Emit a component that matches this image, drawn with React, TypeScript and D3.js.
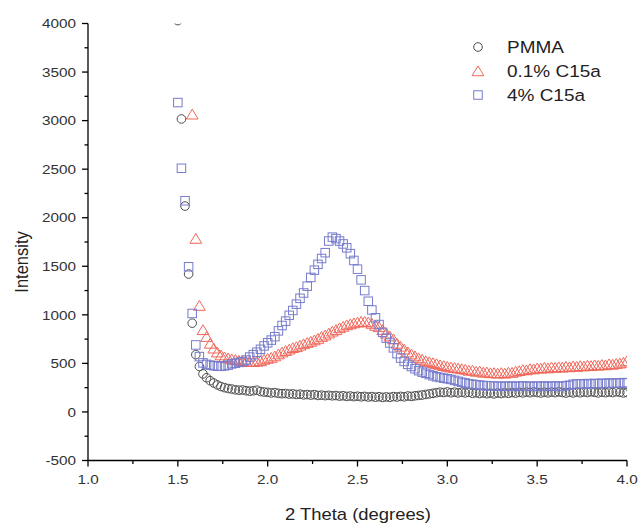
import React from "react";
import * as d3 from "d3";

// 2θ sampling grid (instrument step 0.02°), 1.50 … 4.00
const twoTheta: number[] = d3.range(0, 126).map((i) => +(1.5 + i * 0.02).toFixed(2));

const pmma: (number | null)[] = [
  4030, 3017, 2120, 1420, 914, 590, 468, 392, 352, 322,
  298, 278, 262, 250, 241, 236, 228, 224, 226, 219,
  214, 218, 224, 210, 205, 202, 196, 199, 192, 188,
  190, 184, 186, 180, 183, 176, 179, 174, 178, 170,
  173, 168, 171, 166, 169, 163, 167, 160, 164, 158,
  162, 156, 160, 154, 158, 152, 157, 150, 155, 151,
  158, 154, 160, 156, 164, 160, 166, 170, 174, 180,
  186, 192, 198, 204, 200, 206, 198, 204, 196, 202,
  196, 202, 192, 198, 190, 196, 188, 194, 186, 195,
  190, 198, 192, 200, 194, 202, 196, 204, 198, 206,
  200, 195, 203, 197, 205, 199, 207, 200, 194, 202,
  196, 204, 198, 206, 200, 208, 202, 196, 204, 198,
  206, 200, 208, 202, 196, 200,
];

const c15a01: (number | null)[] = [
  null, null, null, null, 3060, 1780, 1090, 840, 770, 700,
  650, 610, 580, 560, 550, 540, 533, 525, 518, 515,
  512, 512, 515, 520, 535, 545, 555, 570, 590, 610,
  625, 640, 655, 665, 680, 695, 708, 720, 735, 750,
  770, 785, 805, 825, 840, 860, 875, 890, 900, 910,
  918, 925, 925, 920, 905, 885, 870, 840, 805, 775,
  745, 700, 670, 640, 610, 590, 570, 550, 535, 520,
  510, 500, 490, 478, 470, 462, 455, 450, 445, 438,
  432, 422, 424, 412, 414, 402, 404, 396, 398, 392,
  398, 392, 402, 400, 412, 418, 428, 426, 438, 436,
  446, 444, 452, 446, 456, 452, 458, 454, 462, 458,
  466, 462, 470, 466, 474, 470, 478, 474, 482, 478,
  488, 484, 492, 496, 505, 520,
];

const c15a4: (number | null)[] = [
  3186, 2509, 2175, 1495, 1014, 690, 570, 505, 490, 482,
  476, 471, 470, 475, 482, 495, 502, 510, 518, 535,
  565, 590, 615, 645, 680, 712, 740, 775, 835, 890,
  935, 995, 1045, 1110, 1170, 1225, 1295, 1385, 1460, 1520,
  1580, 1640, 1760, 1800, 1785, 1760, 1730, 1690, 1630, 1560,
  1470, 1360, 1250, 1140, 1050, 970, 900, 820, 760, 710,
  660, 600, 555, 520, 490, 468, 445, 425, 410, 398,
  385, 372, 362, 355, 348, 342, 335, 325, 315, 305,
  298, 290, 285, 280, 276, 272, 270, 268, 266, 265,
  262, 266, 263, 267, 262, 265, 268, 263, 266, 262,
  266, 263, 268, 262, 265, 268, 262, 266, 270, 275,
  285, 288, 290, 286, 292, 288, 294, 290, 296, 292,
  298, 294, 300, 296, 302, 298,
];

const seriesNames = ["PMMA", "0.1% C15a", "4% C15a"];
const xTicks = [1.0, 1.5, 2.0, 2.5, 3.0, 3.5, 4.0];
const yTicks = [-500, 0, 500, 1000, 1500, 2000, 2500, 3000, 3500, 4000];

const W = 638;
const H = 524;
const left = 88;
const right = 627;
const top = 23.5;
const bottom = 460.5;

const GRAY = "#4d4d4d";
const RED = "#f0675a";
const BLUE = "#767bcc";
const SX = 1.15; // the reference is stretched horizontally

const font = "'Liberation Sans', Arial, sans-serif";

function SText(props: {
  x: number;
  y: number;
  size: number;
  anchor?: "start" | "middle" | "end";
  fill?: string;
  dy?: string;
  children: React.ReactNode;
}) {
  const { x, y, size, anchor = "start", fill = "#222", dy, children } = props;
  return (
    <text
      transform={`translate(${x},${y}) scale(${SX},1)`}
      textAnchor={anchor}
      fontFamily={font}
      fontSize={size}
      fill={fill}
      dy={dy}
    >
      {children}
    </text>
  );
}

export default function App() {
  const x = d3.scaleLinear().domain([1, 4]).range([left, right]);
  const y = d3.scaleLinear().domain([-500, 4000]).range([bottom, top]);

  const xMinor = d3.range(1, 4.0001, 0.25).filter((v) => Math.abs(v * 2 - Math.round(v * 2)) > 1e-6);
  const yMinor = d3.range(-500, 4001, 250).filter((v) => v % 500 !== 0);

  const pts = (vals: (number | null)[]) =>
    vals
      .map((v, i) => (v == null ? null : { cx: x(twoTheta[i]), cy: y(v) }))
      .filter((p): p is { cx: number; cy: number } => p !== null);

  const tri = (cx: number, cy: number, s = 5.6) =>
    `M${cx},${cy - s} L${cx + s * 1.05},${cy + s * 0.75} L${cx - s * 1.05},${cy + s * 0.75} Z`;

  return (
    <svg width={W} height={H} style={{ position: "absolute", left: 0, top: 0, background: "#fff" }}>
      <defs>
        <clipPath id="plot">
          <rect x={left} y={top} width={right - left} height={bottom - top} />
        </clipPath>
      </defs>
      <rect width={W} height={H} fill="#fff" />

      <g clipPath="url(#plot)" fill="none" strokeWidth={1}>
        {pts(pmma).map((p, i) => (
          <circle key={"c" + i} cx={p.cx} cy={p.cy} r={4.3} stroke={GRAY} />
        ))}
        {pts(c15a01).map((p, i) => (
          <path key={"t" + i} d={tri(p.cx, p.cy)} stroke={RED} />
        ))}
        {pts(c15a4).map((p, i) => (
          <rect key={"s" + i} x={p.cx - 4.25} y={p.cy - 4.25} width={8.5} height={8.5} stroke={BLUE} />
        ))}
      </g>

      {/* axes */}
      <g stroke="#000" strokeWidth={1.3}>
        <line x1={left} x2={left} y1={top} y2={bottom} />
        <line x1={left} x2={right} y1={bottom} y2={bottom} />
        {yTicks.map((t) => (
          <line key={"yt" + t} x1={left - 6} x2={left} y1={y(t)} y2={y(t)} />
        ))}
        {yMinor.map((t) => (
          <line key={"ym" + t} x1={left - 3.5} x2={left} y1={y(t)} y2={y(t)} />
        ))}
        {xTicks.map((t) => (
          <line key={"xt" + t} x1={x(t)} x2={x(t)} y1={bottom} y2={bottom + 6} />
        ))}
        {xMinor.map((t) => (
          <line key={"xm" + t} x1={x(t)} x2={x(t)} y1={bottom} y2={bottom + 3.5} />
        ))}
      </g>

      {yTicks.map((t) => (
        <SText key={"yl" + t} x={left - 12} y={y(t)} dy="0.35em" size={13.3} anchor="end" fill="#333">
          {t}
        </SText>
      ))}
      {xTicks.map((t) => (
        <SText key={"xl" + t} x={x(t)} y={bottom + 23} size={13.3} anchor="middle" fill="#333">
          {t.toFixed(1)}
        </SText>
      ))}

      <SText x={358} y={520} size={16} anchor="middle">
        2 Theta (degrees)
      </SText>
      <text
        transform={`translate(28,262) rotate(-90) scale(1,${SX})`}
        textAnchor="middle"
        fontFamily={font}
        fontSize={16.5}
        fill="#222"
      >
        Intensity
      </text>

      {/* legend */}
      <circle cx={478} cy={47} r={4.3} fill="none" stroke={GRAY} strokeWidth={1} />
      <SText x={507} y={47} dy="0.36em" size={16.5}>{seriesNames[0]}</SText>
      <path d={tri(478, 71.5)} fill="none" stroke={RED} strokeWidth={1} />
      <SText x={507} y={71} dy="0.36em" size={16.5}>{seriesNames[1]}</SText>
      <rect x={473.75} y={90.75} width={8.5} height={8.5} fill="none" stroke={BLUE} strokeWidth={1} />
      <SText x={507} y={95} dy="0.36em" size={16.5}>{seriesNames[2]}</SText>
    </svg>
  );
}
